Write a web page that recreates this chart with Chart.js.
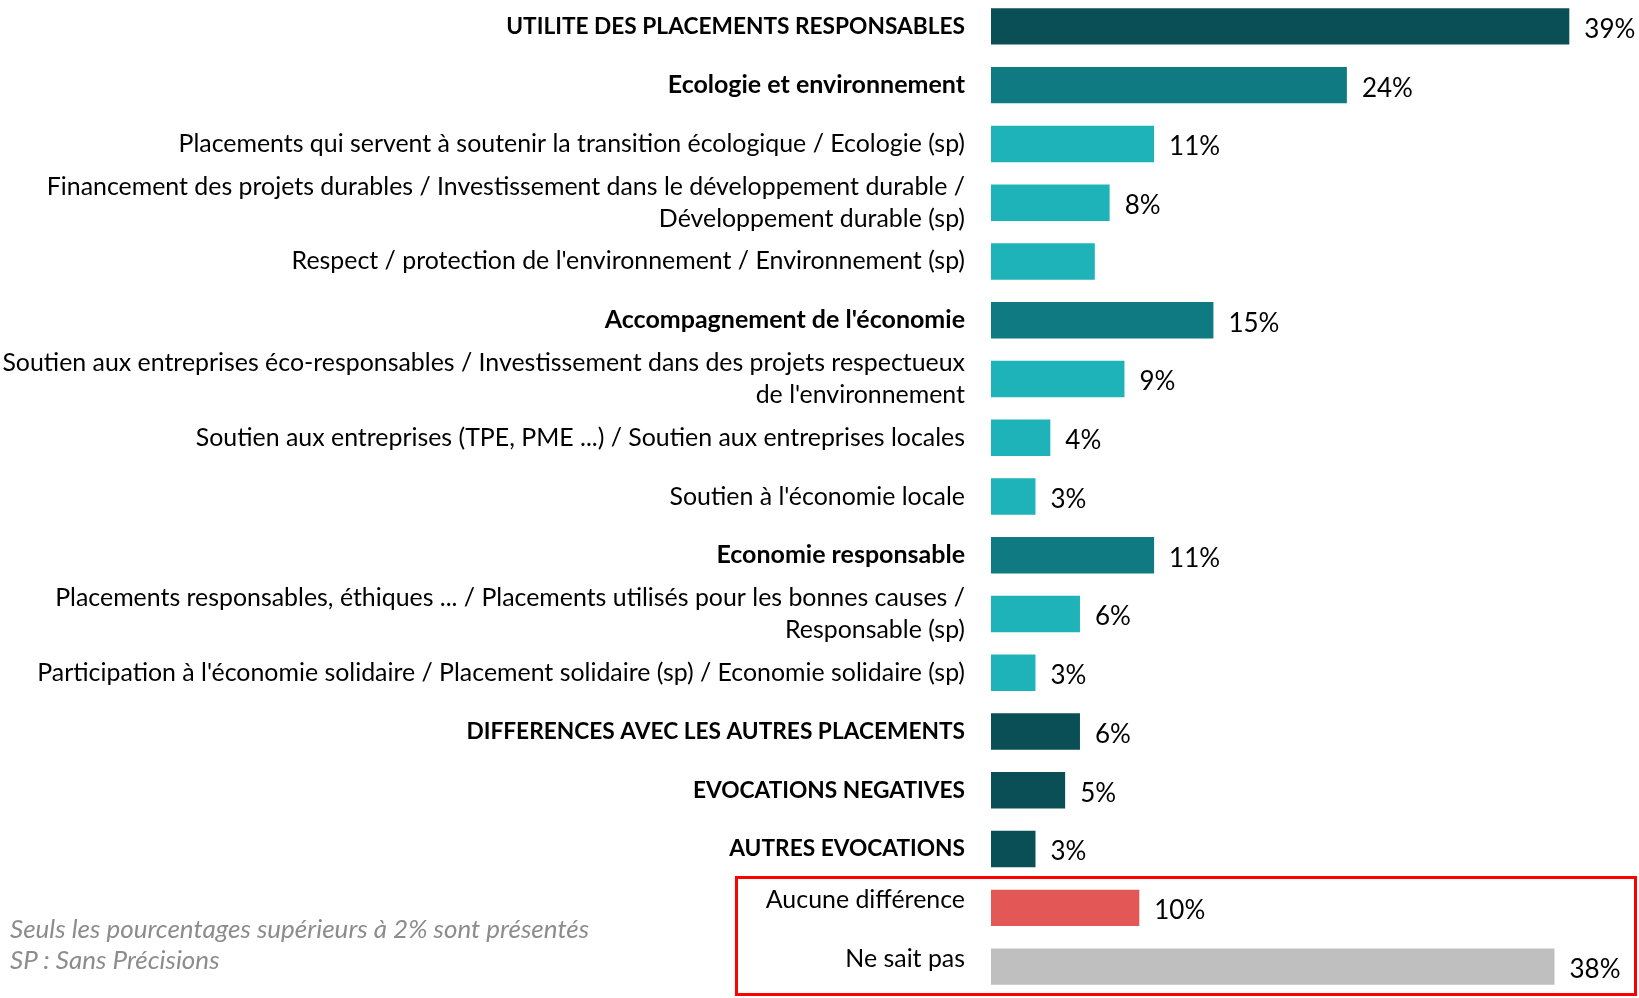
<!DOCTYPE html>
<html>
<head>
<meta charset="utf-8">
<script src="https://cdn.jsdelivr.net/npm/chart.js@4.4.1/dist/chart.umd.min.js"></script>
<style>
  html, body { margin: 0; padding: 0; background: #fff; overflow: hidden; }
  body { width: 1639px; height: 998px; position: relative; font-family: Lato, sans-serif; }
  #wrap { position: absolute; left: 0; top: -3px; width: 1639px; height: 1000px; }
  #note { position: absolute; left: 10px; top: 913px; font-style: italic; font-size: 26px; color: #8c8c8c; line-height: 31px; }
  #box { position: absolute; left: 735px; top: 876px; width: 896px; height: 114px; border: 3px solid #ff0000; }
</style>
</head>
<body>
<div id="wrap"><canvas id="grafico"></canvas></div>
<div id="box"></div>
<div id="note">Seuls les pourcentages supérieurs à 2% sont présentés<br>SP : Sans Précisions</div>
<script>
// Evocations des placements responsables
const categories = [
    'UTILITE DES PLACEMENTS RESPONSABLES',
    'Ecologie et environnement',
    'Placements qui servent à soutenir la transition écologique / Ecologie (sp)',
    ['Financement des projets durables / Investissement dans le développement durable /', 'Développement durable (sp)'],
    "Respect / protection de l'environnement / Environnement (sp)",
    "Accompagnement de l'économie",
    ['Soutien aux entreprises éco-responsables / Investissement dans des projets respectueux', "de l'environnement"],
    'Soutien aux entreprises (TPE, PME ...) / Soutien aux entreprises locales',
    "Soutien à l'économie locale",
    'Economie responsable',
    ['Placements responsables, éthiques ... / Placements utilisés pour les bonnes causes /', 'Responsable (sp)'],
    "Participation à l'économie solidaire / Placement solidaire (sp) / Economie solidaire (sp)",
    'DIFFERENCES AVEC LES AUTRES PLACEMENTS',
    'EVOCATIONS NEGATIVES',
    'AUTRES EVOCATIONS',
    'Aucune différence',
    'Ne sait pas'
];

const values = [39, 24, 11, 8, 7, 15, 9, 4, 3, 11, 6, 3, 6, 5, 3, 10, 38];

// le pourcentage n'est pas affiché sur la barre "Respect / protection"
const showValue = [true, true, true, true, false, true, true, true, true, true, true, true, true, true, true, true, true];

const boldRows = [0, 1, 5, 9, 12, 13, 14];
const boxRows = [15, 16]; // dans le cadre rouge, libellés un peu remontés

const colors = [
    '#0a4f55', '#0f7a82', '#1db3b9', '#1db3b9', '#1db3b9',
    '#0f7a82', '#1db3b9', '#1db3b9', '#1db3b9',
    '#0f7a82', '#1db3b9', '#1db3b9',
    '#0a4f55', '#0a4f55', '#0a4f55',
    '#e35757', '#bfbfbf'
];

const valueLabels = {
    id: 'valueLabels',
    afterDatasetsDraw(chart) {
        const ctx = chart.ctx;
        const meta = chart.getDatasetMeta(0);
        ctx.save();
        ctx.font = '26px Lato';
        ctx.fillStyle = '#000';
        ctx.textBaseline = 'middle';
        ctx.textAlign = 'left';
        meta.data.forEach((bar, i) => {
            if (!showValue[i]) return;
            ctx.fillText(values[i] + '%', bar.x + 15, bar.y + 3);
        });
        ctx.restore();
    }
};

let barras = document.getElementById('grafico').getContext('2d');

var chart = new Chart(barras, {
    type: 'bar',
    data: {
        labels: categories,
        datasets: [
            {
                data: values,
                backgroundColor: colors,
                borderWidth: 0,
                barPercentage: 0.62,
                categoryPercentage: 1
            }
        ]
    },
    options: {
        indexAxis: 'y',
        responsive: true,
        maintainAspectRatio: false,
        animation: false,
        layout: { padding: { top: 0, bottom: 1, left: 0, right: 0 } },
        plugins: {
            legend: { display: false },
            tooltip: { enabled: false }
        },
        scales: {
            x: {
                display: false,
                min: 0,
                max: 43.7
            },
            y: {
                grid: { display: false },
                border: { display: false },
                afterFit: (s) => {
                    s.width = 991;
                    s.paddingTop = 0;
                    s.paddingBottom = 0;
                },
                ticks: {
                    autoSkip: false,
                    padding: 18,
                    color: '#000',
                    callback: (v, i) => boxRows.includes(i) ? [categories[i], ''] : categories[i],
                    font: (c) => {
                        const bold = boldRows.includes(c.index);
                        const lbl = categories[c.index];
                        const caps = typeof lbl === 'string' && lbl === lbl.toUpperCase();
                        let size = 24.9;
                        let lh = 1.28;
                        if (bold) { size = caps ? 22.7 : 25; lh = 1.4; }
                        if (boxRows.includes(c.index)) lh = 0.6;
                        return {
                            family: 'Lato',
                            size: size,
                            lineHeight: lh,
                            weight: bold ? 'bold' : 'normal'
                        };
                    }
                }
            }
        }
    },
    plugins: [valueLabels]
});
</script>
</body>
</html>
